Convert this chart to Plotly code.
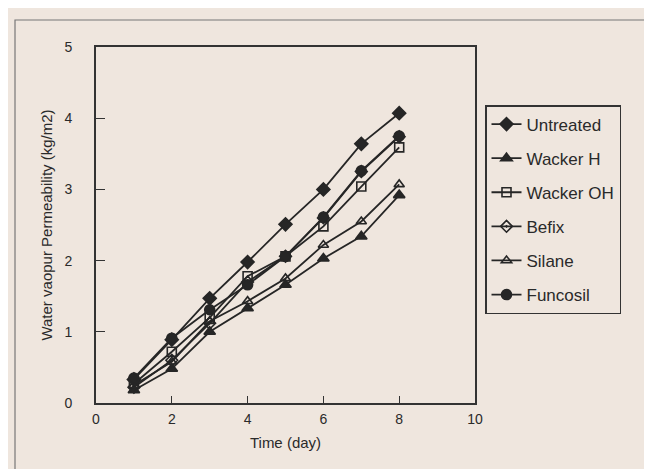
import plotly.graph_objects as go

days = [1, 2, 3, 4, 5, 6, 7, 8]
untreated = [0.33, 0.89, 1.47, 1.98, 2.51, 3.00, 3.64, 4.07]
wacker_h = [0.18, 0.48, 1.00, 1.33, 1.66, 2.03, 2.34, 2.92]
wacker_oh = [0.27, 0.72, 1.20, 1.78, 2.06, 2.48, 3.04, 3.59]
befix = [0.22, 0.60, 1.12, 1.70, 2.06, 2.60, 3.25, 3.74]
silane = [0.25, 0.58, 1.15, 1.43, 1.75, 2.22, 2.55, 3.07]
funcosil = [0.35, 0.91, 1.31, 1.66, 2.06, 2.61, 3.26, 3.75]

series = [
    ("Untreated", untreated, "diamond", 10),
    ("Wacker H", wacker_h, "triangle-up", 10),
    ("Wacker OH", wacker_oh, "square-open", 9),
    ("Befix", befix, "diamond-open-dot", 9),
    ("Silane", silane, "triangle-up-open", 9),
    ("Funcosil", funcosil, "circle", 10),
]

ink = "#262626"
paper = "#efe6de"
FONT = "Liberation Sans, Arial, sans-serif"

fig = go.Figure()
for i, (name, vals, sym, sz) in enumerate(series):
    fig.add_trace(go.Scatter(
        x=days, y=vals, name=name, mode="lines+markers",
        line=dict(color=ink, width=1.8),
        marker=dict(symbol=sym, size=sz, color=ink,
                    line=dict(color=ink, width=1.6)),
        legendgroup=name,
    ))

L, R, T, B = 88, 467, 39, 395
W, H = 652, 469
pw, ph = R - L, B - T

def px(x):
    return (x - L) / pw

def py(y):
    return (B - y) / ph

fig.update_layout(
    width=W, height=H,
    margin=dict(l=L, r=W - R, t=T, b=H - B),
    paper_bgcolor=paper, plot_bgcolor=paper,
    font=dict(family=FONT, size=14, color="#2a2a2a"),
    showlegend=True,
    legend=dict(
        x=px(477), y=py(97), xanchor="left", yanchor="top",
        bgcolor=paper, bordercolor="#333", borderwidth=1.5,
        font=dict(family=FONT, size=17, color="#2a2a2a"),
        tracegroupgap=9, itemwidth=30,
    ),
    xaxis=dict(
        range=[0, 10], dtick=2, tick0=0,
        showline=True, linecolor="#333", linewidth=1.8, mirror=True,
        ticks="inside", ticklen=7, tickwidth=1.3, tickcolor="#333",
        showgrid=False, zeroline=False,
        tickfont=dict(family=FONT, size=14, color="#2a2a2a"),
        ticklabelstandoff=2,
        title=dict(text="Time (day)", font=dict(size=15, color="#2a2a2a"), standoff=12),
    ),
    yaxis=dict(
        range=[0, 5], dtick=1, tick0=0,
        showline=True, linecolor="#333", linewidth=1.8, mirror=True,
        ticks="inside", ticklen=9, tickwidth=1.3, tickcolor="#333",
        showgrid=False, zeroline=False,
        tickfont=dict(family=FONT, size=14, color="#2a2a2a"),
        ticklabelstandoff=19,
        title=dict(text="Water vaopur Permeability (kg/m2)", font=dict(size=15, color="#2a2a2a"), standoff=8),
    ),
)

fig.add_shape(type="rect", xref="paper", yref="paper",
              x0=px(7), x1=px(646), y0=py(466), y1=py(12),
              line=dict(color="#777", width=1.2), fillcolor="rgba(0,0,0,0)",
              layer="below")

fig.write_html("out.html")
